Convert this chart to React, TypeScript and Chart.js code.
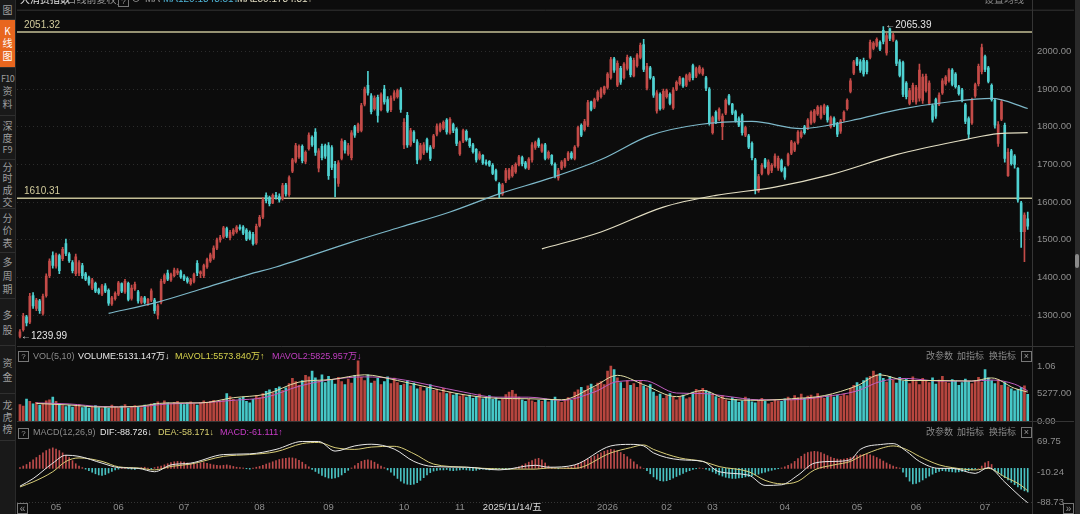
import React, { useEffect, useRef } from 'react';
import { Chart, registerables } from 'chart.js';

Chart.register(...registerables);

const FONT = '"Liberation Sans", "Noto Sans CJK SC", sans-serif';
const CJK = '"Noto Sans CJK SC", "Liberation Sans", sans-serif';

// ---------- DATA ----------
// daily candles: [open, high, low, close]
const candles: [number, number, number, number][] = [
  [1244,1262,1239.99,1256],[1262,1305,1258,1298],[1296,1300,1272,1280],[1282,1358,1278,1350],[1352,1360,1318,1325],
  [1318,1345,1312,1340],[1338,1342,1305,1312],[1305,1356,1300,1350],[1352,1410,1348,1404],[1405,1450,1400,1444],
  [1458,1468,1425,1432],[1430,1465,1425,1460],[1458,1462,1410,1418],[1450,1480,1445,1475],[1490,1502,1458,1464],
  [1462,1466,1440,1445],[1440,1445,1412,1418],[1410,1462,1405,1455],[1412,1445,1405,1440],[1432,1438,1398,1405],
  [1410,1414,1392,1396],[1400,1404,1380,1385],[1372,1398,1368,1394],[1385,1388,1360,1364],[1368,1372,1356,1360],
  [1356,1382,1352,1378],[1378,1384,1360,1364],[1366,1370,1326,1332],[1330,1350,1326,1346],[1344,1362,1340,1358],
  [1356,1390,1352,1386],[1384,1386,1360,1364],[1362,1395,1358,1390],[1385,1388,1338,1342],[1345,1380,1340,1372],
  [1370,1388,1366,1382],[1362,1366,1332,1338],[1334,1350,1330,1346],[1346,1350,1330,1334],[1332,1345,1326,1342],
  [1340,1370,1336,1365],[1340,1345,1305,1312],[1300,1330,1290,1325],[1335,1396,1330,1390],[1388,1410,1384,1405],
  [1412,1420,1392,1396],[1394,1412,1390,1408],[1405,1425,1402,1420],[1412,1424,1408,1418],[1416,1420,1398,1402],
  [1404,1408,1392,1396],[1398,1402,1385,1390],[1384,1398,1380,1394],[1390,1412,1386,1408],[1438,1445,1405,1412],
  [1410,1418,1400,1415],[1405,1436,1400,1432],[1428,1452,1424,1448],[1444,1465,1440,1460],[1452,1484,1448,1478],
  [1478,1505,1474,1500],[1500,1512,1494,1506],[1508,1536,1504,1532],[1530,1534,1506,1510],[1506,1525,1500,1520],
  [1516,1530,1512,1526],[1522,1538,1518,1534],[1534,1540,1526,1530],[1534,1538,1514,1518],[1526,1530,1498,1502],
  [1520,1524,1500,1504],[1515,1520,1486,1490],[1492,1542,1488,1536],[1538,1565,1534,1560],[1560,1612,1556,1606],
  [1618,1625,1598,1604],[1612,1616,1590,1596],[1598,1622,1596,1618],[1618,1626,1608,1614],[1615,1622,1600,1606],
  [1610,1650,1605,1644],[1645,1650,1616,1622],[1620,1670,1615,1665],[1682,1716,1678,1712],[1708,1756,1704,1750],
  [1720,1752,1716,1748],[1748,1752,1704,1710],[1708,1736,1702,1732],[1742,1784,1738,1778],[1772,1776,1748,1752],
  [1786,1795,1724,1732],[1690,1742,1680,1736],[1748,1754,1712,1718],[1750,1754,1716,1722],[1750,1758,1660,1670],
  [1745,1750,1686,1692],[1700,1708,1614,1664],[1650,1710,1642,1704],[1716,1768,1712,1762],[1760,1764,1730,1738],
  [1728,1756,1724,1750],[1718,1790,1712,1784],[1800,1804,1772,1778],[1788,1810,1784,1806],[1790,1862,1786,1856],
  [1860,1905,1855,1900],[1910,1947,1884,1890],[1882,1888,1834,1840],[1848,1882,1844,1876],[1878,1884,1812,1830],
  [1845,1890,1842,1885],[1900,1910,1860,1866],[1872,1880,1838,1842],[1845,1882,1840,1876],[1876,1896,1870,1890],
  [1880,1900,1876,1896],[1898,1904,1838,1846],[1752,1822,1742,1812],[1830,1838,1745,1752],[1752,1796,1748,1790],
  [1786,1790,1758,1762],[1760,1766,1702,1712],[1716,1756,1712,1750],[1730,1758,1726,1752],[1766,1770,1732,1738],
  [1745,1750,1710,1716],[1746,1780,1742,1776],[1780,1808,1776,1802],[1790,1810,1786,1806],[1796,1816,1792,1812],
  [1818,1822,1780,1786],[1784,1824,1780,1820],[1806,1810,1784,1790],[1794,1798,1750,1756],[1728,1762,1724,1758],
  [1762,1794,1758,1790],[1788,1792,1762,1766],[1768,1770,1745,1750],[1752,1756,1730,1734],[1740,1742,1706,1712],
  [1716,1734,1712,1728],[1724,1726,1700,1704],[1706,1712,1698,1702],[1708,1710,1695,1698],[1698,1702,1673,1676],
  [1684,1688,1656,1660],[1648,1652,1612,1622],[1622,1650,1618,1646],[1656,1690,1652,1684],[1664,1690,1660,1686],
  [1670,1698,1666,1694],[1680,1704,1676,1700],[1700,1724,1696,1720],[1718,1722,1696,1702],[1704,1708,1688,1692],
  [1690,1718,1686,1714],[1712,1758,1706,1752],[1745,1762,1740,1758],[1765,1770,1745,1750],[1735,1755,1732,1752],
  [1752,1756,1712,1716],[1718,1736,1714,1732],[1724,1726,1698,1702],[1700,1704,1664,1670],[1664,1690,1658,1684],
  [1690,1710,1686,1706],[1696,1716,1692,1712],[1714,1734,1710,1730],[1730,1734,1714,1718],[1716,1750,1712,1746],
  [1750,1802,1746,1798],[1804,1808,1774,1778],[1792,1820,1788,1814],[1804,1870,1800,1864],[1866,1868,1842,1846],
  [1852,1876,1848,1872],[1872,1896,1868,1892],[1880,1904,1876,1900],[1890,1908,1886,1906],[1904,1944,1900,1940],
  [1930,1984,1926,1978],[1980,1984,1944,1950],[1910,1975,1906,1968],[1955,1960,1912,1918],[1930,1970,1926,1966],
  [1955,1990,1950,1984],[1982,1986,1932,1938],[1935,1982,1932,1976],[1962,1994,1958,1990],[1984,2022,1980,2016],
  [2018,2032,1946,1952],[1902,1968,1898,1960],[1956,1960,1926,1930],[1930,1934,1878,1884],[1842,1896,1836,1890],
  [1886,1890,1844,1848],[1850,1900,1846,1894],[1880,1900,1876,1896],[1886,1890,1858,1862],[1850,1904,1846,1898],
  [1900,1922,1896,1918],[1914,1934,1910,1930],[1928,1930,1904,1908],[1910,1940,1906,1936],[1924,1944,1920,1940],
  [1962,1966,1924,1930],[1934,1958,1930,1954],[1944,1962,1940,1958],[1940,1956,1936,1952],[1930,1934,1896,1902],
  [1900,1904,1804,1810],[1784,1828,1780,1824],[1838,1842,1808,1812],[1820,1850,1816,1846],[1800,1834,1766,1828],
  [1836,1874,1832,1870],[1882,1886,1858,1862],[1860,1862,1832,1836],[1840,1844,1812,1816],[1822,1826,1800,1804],
  [1830,1834,1778,1784],[1778,1802,1774,1798],[1776,1780,1742,1746],[1756,1760,1712,1718],[1712,1716,1622,1634],
  [1630,1674,1626,1668],[1676,1702,1672,1698],[1712,1716,1690,1694],[1676,1712,1672,1706],[1684,1702,1678,1698],
  [1696,1728,1692,1722],[1690,1722,1684,1716],[1710,1714,1680,1684],[1690,1694,1660,1666],[1700,1730,1696,1726],
  [1730,1764,1726,1760],[1738,1760,1734,1756],[1758,1790,1754,1786],[1774,1790,1770,1786],[1800,1804,1780,1784],
  [1796,1822,1792,1818],[1810,1842,1806,1838],[1814,1846,1810,1842],[1834,1856,1830,1852],[1824,1856,1820,1852],
  [1836,1860,1832,1856],[1852,1856,1812,1818],[1800,1828,1796,1824],[1822,1826,1800,1804],[1808,1812,1774,1780],
  [1788,1820,1782,1816],[1818,1842,1814,1838],[1848,1874,1844,1870],[1894,1928,1890,1922],[1942,1976,1938,1972],
  [1980,1984,1962,1966],[1972,1978,1944,1950],[1976,1982,1934,1940],[1972,1976,1940,1946],[1984,2030,1980,2024],
  [2008,2026,2004,2022],[2016,2036,2012,2032],[2024,2028,2002,2006],[2056,2065.39,2020,2026],[1996,2048,1990,2042],
  [2060,2062,2028,2034],[2030,2048,2026,2044],[2026,2030,1962,1968],[1972,1978,1932,1936],[1970,1974,1880,1886],
  [1916,1920,1874,1880],[1862,1902,1858,1896],[1872,1916,1866,1910],[1866,1910,1860,1904],[1876,1966,1868,1950],
  [1870,1940,1862,1932],[1896,1940,1892,1934],[1862,1922,1858,1916],[1856,1860,1812,1818],[1872,1876,1822,1828],
  [1860,1890,1856,1884],[1890,1928,1886,1922],[1914,1936,1910,1932],[1922,1954,1918,1950],[1950,1954,1908,1912],
  [1940,1944,1902,1906],[1906,1910,1884,1888],[1898,1902,1866,1870],[1858,1862,1808,1814],[1822,1826,1768,1780],
  [1810,1876,1806,1870],[1882,1916,1878,1912],[1914,1966,1908,1960],[1946,2019,1940,2010],[1986,1990,1946,1952],
  [1956,1960,1916,1920],[1910,1914,1868,1872],[1870,1874,1796,1804],[1756,1814,1748,1806],[1820,1872,1816,1866],
  [1804,1810,1706,1716],[1670,1742,1668,1732],[1736,1740,1698,1702],[1722,1726,1690,1700],[1690,1692,1600,1606],
  [1598,1602,1480,1522],[1522,1572,1442,1566],[1556,1574,1528,1536],
];

// daily volume (万)
const volumes: number[] = [
  3200,2900,4250,3800,3300,3600,3100,3400,3900,4100,4600,3800,
  3300,3000,2800,3100,2700,2900,3200,2600,2800,2500,2700,3000,2600,2400,2800,2500,3100,2700,2600,2900,3200,2500,2800,3000,2700,2600,3100,2900,3300,
  3400,3700,3200,3900,3500,3300,3600,3800,3400,3200,3500,3700,3300,3100,3600,3900,3500,3800,4000,3600,3700,4100,
  5300,4700,4200,3900,4400,4600,3800,3500,4200,4900,4500,
  5300,5700,6000,5500,6300,6600,5900,6400,
  7200,8200,7600,6900,7800,8800,8500,9600,8300,7700,8900,7400,8600,7900,7100,8400,7600,7000,8100,7300,8800,
  11600,
  8400,7800,8900,7300,7700,8200,7000,7600,8500,7200,8260,7400,6900,7100,7800,
  6800,7300,6200,6600,5800,6400,7000,5900,6100,5500,6300,5300,
  5600,5000,5300,4800,5100,4600,5000,4400,4700,5200,4300,4600,4900,4200,4500,3900,4300,5100,5600,5900,5200,4600,4100,3800,4200,3900,3600,4000,
  3800,4300,3700,4100,4600,3900,3600,4200,4500,4000,
  5600,6000,6500,5900,6800,7100,6400,7300,7600,7000,
  9600,10600,9900,
  8300,7400,6300,7800,6900,7200,6500,7600,6800,6400,7000,
  5600,4800,5200,4400,4900,5300,4600,4100,4700,5000,4300,4500,
  5600,6100,5800,6300,5900,5600,
  5200,4700,4400,4900,4100,3800,4500,4200,3600,3900,4600,4300,3700,3500,4000,4400,3800,3300,3600,4100,3900,
  3800,4300,4600,4100,4900,4500,5200,4400,4800,5000,4600,5300,4700,4400,4900,5100,4600,5000,4800,5200,4900,
  6300,6900,7400,6800,7800,8300,
  8600,9600,8900,9200,
  8200,7500,8600,7900,7300,8400,7700,8100,7200,8500,7600,7000,8200,7800,7400,8300,7100,7900,8600,7500,7300,8000,7700,6900,7400,8100,7600,7200,7800,8400,7500,
  9900,
  8300,7800,7200,8000,6900,7400,6600,6200,5800,6100,6500,6800,5131.147,
];

// MACD histogram per day
const macdHist: number[] = [
  2,6, 10,16,22,28,34,40,46,50,53, 50,46,40,34,28,20,12,6, 2,-2,
  -6,-10,-14,-17,-18,-16,-12,-8,-4,
  -2,1,2,-1,-2,-3,-1,2,3,1,-1,2,4,
  6,9,12,15,17,18,17,16,14,12,11,12,14,15,13,11,9,8,7,8,9,7,5,3,
  2,1,-1,-2,1,3,5,
  8,11,14,17,20,23,25,26,27,27,25,21,16,10,4,
  -3,-8,-13,-18,-22,-25,-26,-25,-22,-17,-11,-5,
  1,7,13,18,21,22,20,16,11,6,2,
  -4,-10,-18,-26,-33,-38,-41,-42,-41,-37,-31,-24,-17,-11,-7,
  -5,-4,-4,-3,-5,-6,-5,-4,-3,-4,-5,-6,-5,-3,-2,-3,-4,-3,-2,-1,-2,-3,-2,-1,1,
  4,8,12,16,20,24,26,22,14,6,
  2,1,-1,0,1,2,4,
  8,12,16,20,24,28,32,36,40,44,47,49,48,45,41,36,30,24,17,10,4,
  0,
  -6,-14,-22,-28,-32,-33,-32,-29,-25,-21,-17,-13,-9,-6,-3,-1,
  1,0,-2,
  -5,-9,-13,-17,-20,-23,-25,-26,-26,-25,-24,-22,-21,-19,-17,-15,-12,-10,-7,-5,-3,-1,
  1,4,8,
  12,18,25,31,37,41,43,44,43,41,37,33,29,26,24,23,24,26,28,31,33,35,36,36,35,32,28,24,19,14,10,6,3,1,
  -10,-22,-33,-40,-39,-35,-30,-25,-20,-15,-11,-8,
  -6,-7,-8,-9,-10,-9,-8,-7,-6,-4,-2,0,
  6,14,18,10,
  -6,-12,-18,-24,-30,-36,-42,-48,-54,-58,-61.111,
];

// DIF / DEA read at these trading-day indices
const macdIdx = [0,4,10,14,18,25,30,36,41,46,52,62,70,78,86,91,96,102,107,114,120,126,136,146,157,161,169,180,186,190,193,201,208,213,222,227,232,237,242,248,253,256,263,266,270,274,280,284,291,295,300,305,307];
const difVals = [-46,-26.5,13.5,34,31,13.5,2,0,-8.7,9,13.5,35.7,37.5,49,69.5,69.5,44.6,58,62.4,50,18,4.6,3,-4,8,3,9,58,62,58,40,22.4,18,-8.7,-17.6,-44,-42.5,-17.6,13.5,18,22.4,49,62.4,64,44.6,18,0,0,-13,2,-35.4,-75,-88.726];
const deaVals = [-48,-35,-8.7,18,27,18,4,1,-4,5,11,31,35.7,43,64,67,53.5,49,55,57,38,11,3,-1.6,-2,1,0,40,53.5,60.6,49,27,18,4.6,-8.7,-31,-40,-33.6,-4,9,18,31,53.5,58,49,31,9,2,-4,0,-22,-44,-58.171];

// price moving averages read at these indices
const ma120Idx = [27,42,55,70,78,101,116,131,146,162,177,192,207,223,238,253,268,284,296,307];
const ma120Vals = [1305,1335,1369,1409,1428,1494,1534,1574,1622,1665,1713,1777,1806,1814,1795,1816,1846,1867,1875,1848.51];
const ma250Idx = [159,177,196,212,230,247,267,288,298,307];
const ma250Vals = [1476,1521,1587,1618,1640,1673,1726,1766,1782,1784.31];

// volume moving averages read at these indices
const mavolIdx = [5,15,25,35,45,55,65,75,85,95,105,115,125,135,145,155,165,175,182,190,200,208,215,225,235,245,255,262,270,280,290,296,303,307];
const mavol1Vals = [3400,3100,2700,2800,3500,3500,4500,5200,7500,8000,8900,7800,6400,5100,4400,4300,4100,6700,8800,7000,4700,5900,4300,4000,4300,4900,6800,8900,7800,7800,7700,8300,6300,5573.84];
const mavol2Vals = [3500,3300,2800,2750,3300,3500,4000,4600,6700,8000,8500,8100,6900,5600,4600,4600,4000,5600,7600,7800,5400,5300,4800,4100,4100,4700,5800,7600,8200,7700,7700,7900,7100,5825.957];

// axis ticks
const xTickIdx = [11,30,50,73,94,117,134,150,179,197,211,233,255,273,294];
const xTickLabels = ['05','06','07','08','09','10','11','2025/11/14/五','2026','02','03','04','05','06','07'];
const crossIdx = 150;
const priceTicks = [1300,1400,1500,1600,1700,1800,1900,2000];
const volTicks = [0,5277,10554];
const volTickLabels = ['0.00','5277.00','1.06'];
const macdTicks = [69.75,-10.24,-88.73];
const levelLines = [2051.32,1610.31];

// ---------- STYLE ----------
const RED = '#c44b48';
const CYAN = '#4fd2d2';
const VRED = '#b8463f';
const VCYAN = '#46c8c8';
const GRAY = '#8e8e8e';

const overlayPlugin = {
  id: 'overlay',
  beforeDatasetsDraw(chart: any) {
    const { ctx, chartArea: a, scales } = chart;
    const yP = scales.yP;
    ctx.save();
    ctx.strokeStyle = '#353535';
    ctx.lineWidth = 1;
    [scales.yV.top, scales.yM.top].forEach((t: number) => {
      const y = Math.round(t) + 0.5;
      ctx.beginPath(); ctx.moveTo(a.left, y); ctx.lineTo(1074, y); ctx.stroke();
    });
    ctx.beginPath(); ctx.moveTo(a.left, a.top - 0.5); ctx.lineTo(1074, a.top - 0.5); ctx.stroke();
    ctx.beginPath(); ctx.moveTo(a.right + 0.5, 0); ctx.lineTo(a.right + 0.5, 514); ctx.stroke();
    ctx.setLineDash([1, 2]);
    ctx.beginPath(); ctx.moveTo(a.left, a.bottom - 0.5); ctx.lineTo(a.right, a.bottom - 0.5); ctx.stroke();
    ctx.setLineDash([]);
    levelLines.forEach((v) => {
      const y = yP.getPixelForValue(v);
      ctx.strokeStyle = '#c4bf96';
      ctx.lineWidth = 1.5;
      ctx.beginPath(); ctx.moveTo(a.left, y); ctx.lineTo(a.right, y); ctx.stroke();
      ctx.fillStyle = '#d2cb9c';
      ctx.font = '10px ' + FONT;
      ctx.textAlign = 'left';
      ctx.textBaseline = 'alphabetic';
      ctx.fillText(v.toFixed(2), a.left + 7, y - 4);
    });
    ctx.restore();
  },
  afterDatasetsDraw(chart: any) {
    const { ctx, scales } = chart;
    let hi = 0, lo = 0;
    candles.forEach((c, i) => {
      if (c[1] > candles[hi][1]) hi = i;
      if (c[2] < candles[lo][2]) lo = i;
    });
    ctx.save();
    ctx.font = '10px ' + FONT;
    ctx.fillStyle = '#e6e6e6';
    ctx.textAlign = 'left';
    ctx.textBaseline = 'middle';
    const px = scales.x.getPixelForValue(hi);
    const py = scales.yP.getPixelForValue(candles[hi][1]);
    ctx.fillText('←' + candles[hi][1].toFixed(2), px + 2, py - 1);
    const lx = scales.x.getPixelForValue(lo);
    const ly = scales.yP.getPixelForValue(candles[lo][2]);
    ctx.fillText('←' + candles[lo][2].toFixed(2), lx + 1, ly - 2);
    ctx.restore();
  },
};

const sideItems = [
  { top: 0, h: 19, lines: ['图'], lh: 12 },
  { top: 20, h: 47, lines: ['K', '线', '图'], lh: 12.5, active: true },
  { top: 68, h: 47, lines: ['F10', '资', '料'], lh: 12.5 },
  { top: 116, h: 43, lines: ['深', '度', 'F9'], lh: 12 },
  { top: 160, h: 48, lines: ['分', '时', '成', '交'], lh: 11.7 },
  { top: 209, h: 43, lines: ['分', '价', '表'], lh: 12.5 },
  { top: 253, h: 45, lines: ['多', '周', '期'], lh: 13.5 },
  { top: 299, h: 46, lines: ['多', '股'], lh: 15 },
  { top: 346, h: 47, lines: ['资', '金'], lh: 14 },
  { top: 394, h: 46, lines: ['龙', '虎', '榜'], lh: 12 },
];

const T = ({ x, y, c, s = 9, f = FONT, children }: any) => (
  <div style={{ position: 'absolute', left: x, top: y, color: c, fontSize: s, lineHeight: '12px', whiteSpace: 'nowrap', fontFamily: f }}>{children}</div>
);

const Box = ({ x, y, w = 9, children, c = '#9a9a9a', s = 8 }: any) => (
  <div style={{ position: 'absolute', left: x, top: y, width: w, height: w, border: '1px solid #777', color: c, fontSize: s, lineHeight: w + 'px', textAlign: 'center', fontFamily: FONT, boxSizing: 'content-box' }}>{children}</div>
);

export default function App() {
  const ref = useRef<HTMLCanvasElement>(null);

  useEffect(() => {
    const canvas = ref.current as HTMLCanvasElement;
    const up = candles.map((c) => c[3] >= c[0]);
    const cColors = up.map((u) => (u ? RED : CYAN));
    const vColors = volumes.map((_, i) => (up[i] ? VRED : VCYAN));
    const hColors = macdHist.map((v) => (v >= 0 ? '#bd4b4b' : '#49c2c2'));
    const pts = (idx: number[], vals: number[]) => idx.map((x, k) => ({ x, y: vals[k] }));
    const line = (label: string, data: any[], color: string, axis: string, w = 1) => ({
      type: 'line', label, data, borderColor: color, borderWidth: w, pointRadius: 0,
      cubicInterpolationMode: 'monotone', fill: false, yAxisID: axis, xAxisID: 'x', order: 0,
    });
    const tickFont = { size: 9.5, family: FONT };

    const chart = new Chart(canvas, {
      type: 'bar',
      data: {
        datasets: [
          line('MA120', pts(ma120Idx, ma120Vals), '#7db8c9', 'yP', 1.2),
          line('MA250', pts(ma250Idx, ma250Vals), '#e2ddc2', 'yP', 1.2),
          {
            type: 'bar', label: 'wick', data: candles.map((c, i) => ({ x: i, y: [c[2], c[1]] })),
            backgroundColor: cColors, barThickness: 1, grouped: false, yAxisID: 'yP', xAxisID: 'x', order: 2,
          },
          {
            type: 'bar', label: 'body', data: candles.map((c, i) => ({ x: i, y: [Math.min(c[0], c[3]), Math.max(c[0], c[3])] })),
            backgroundColor: cColors, barThickness: 2, minBarLength: 1, grouped: false, yAxisID: 'yP', xAxisID: 'x', order: 1,
          },
          {
            type: 'bar', label: 'VOLUME', data: volumes.map((v, i) => ({ x: i, y: v })),
            backgroundColor: vColors, barThickness: 2, grouped: false, yAxisID: 'yV', xAxisID: 'x', order: 3,
          },
          line('MAVOL1', pts(mavolIdx, mavol1Vals), '#e2dea6', 'yV'),
          line('MAVOL2', pts(mavolIdx, mavol2Vals), '#c05ec0', 'yV'),
          {
            type: 'bar', label: 'MACD', data: macdHist.map((v, i) => ({ x: i, y: v })),
            backgroundColor: hColors, barThickness: 1, grouped: false, yAxisID: 'yM', xAxisID: 'x', order: 3,
          },
          line('DIF', pts(macdIdx, difVals), '#e8e8e8', 'yM'),
          line('DEA', pts(macdIdx, deaVals), '#d8cd78', 'yM'),
        ] as any,
      },
      options: {
        responsive: false,
        animation: false,
        events: [],
        layout: { padding: { left: 17, top: 10, right: 0, bottom: 0 } },
        plugins: { legend: { display: false }, tooltip: { enabled: false } },
        scales: {
          x: {
            type: 'linear', min: -0.9, max: 308.3, offset: false, position: 'bottom',
            grid: { display: false, drawTicks: false }, border: { display: false },
            afterBuildTicks: (s: any) => { s.ticks = xTickIdx.map((v) => ({ value: v })); },
            afterFit: (s: any) => { s.height = 11; },
            ticks: {
              autoSkip: false, maxRotation: 0, padding: -1, font: tickFont,
              color: (c: any) => (c.tick && c.tick.value === crossIdx ? '#dedede' : GRAY),
              callback: (v: any) => { const k = xTickIdx.indexOf(Number(v)); return k >= 0 ? xTickLabels[k] : ''; },
            },
          },
          yP: {
            type: 'linear', position: 'right', stack: 'panes', stackWeight: 336, min: 1217.9, max: 2107.8,
            afterBuildTicks: (s: any) => { s.ticks = priceTicks.map((v) => ({ value: v })); },
            afterFit: (s: any) => { s.width = 48; },
            grid: { color: '#2c2c2c', drawTicks: false, lineWidth: 1 },
            border: { display: false, dash: [1, 3] },
            ticks: { padding: 5, color: GRAY, font: tickFont, callback: (v: any) => Number(v).toFixed(2) },
          },
          yV: {
            type: 'linear', position: 'right', stack: 'panes', stackWeight: 75, min: 0, max: 14392,
            afterBuildTicks: (s: any) => { s.ticks = volTicks.map((v) => ({ value: v })); },
            afterFit: (s: any) => { s.width = 48; },
            grid: { display: false, drawTicks: false }, border: { display: false },
            ticks: { padding: 5, color: GRAY, font: tickFont, callback: (v: any) => volTickLabels[volTicks.indexOf(Number(v))] },
          },
          yM: {
            type: 'linear', position: 'right', stack: 'panes', stackWeight: 82, min: -89.5, max: 122.1,
            afterBuildTicks: (s: any) => { s.ticks = macdTicks.map((v) => ({ value: v })); },
            afterFit: (s: any) => { s.width = 48; },
            grid: { display: false, drawTicks: false }, border: { display: false },
            ticks: { padding: 5, color: GRAY, font: tickFont, callback: (v: any) => Number(v).toFixed(2) },
          },
        },
      } as any,
      plugins: [overlayPlugin as any],
    });
    return () => chart.destroy();
  }, []);

  const ctrl = (y: number) => (
    <>
      <T x={926} y={y} c="#8a8a8a" f={CJK}>改参数</T>
      <T x={957} y={y} c="#8a8a8a" f={CJK}>加指标</T>
      <T x={989} y={y} c="#8a8a8a" f={CJK}>换指标</T>
      <Box x={1021} y={y + 1} s={9}>×</Box>
    </>
  );

  return (
    <div style={{ position: 'fixed', left: 0, top: 0, width: 1080, height: 514, background: '#0c0c0c', overflow: 'hidden', fontFamily: FONT }}>
      <canvas ref={ref} width={1080} height={514} style={{ position: 'absolute', left: 0, top: 0, width: 1080, height: 514 }} />

      {/* left sidebar */}
      <div style={{ position: 'absolute', left: 0, top: 0, width: 15, height: 514, background: '#191919', borderRight: '1px solid #2a2a2a' }} />
      {sideItems.map((it, k) => (
        <div key={k} style={{
          position: 'absolute', left: 0, top: it.top, width: 15, height: it.h,
          background: it.active ? '#e8661e' : 'transparent', borderBottom: '1px solid #2f2f2f',
          display: 'flex', flexDirection: 'column', justifyContent: 'center', alignItems: 'center',
        }}>
          {it.lines.map((s, j) => (
            <div key={j} style={{ height: it.lh, lineHeight: it.lh + 'px', fontSize: s.length > 1 ? 9 : 10, letterSpacing: s.length > 2 ? -0.6 : 0, color: it.active ? '#ffffff' : '#9d9d9d', fontFamily: CJK, whiteSpace: 'nowrap' }}>{s}</div>
          ))}
        </div>
      ))}

      {/* top header (cut off at top) */}
      <T x={20} y={-7} s={10} c="#e2e2e2" f={CJK}>大消费指数</T>
      <T x={63} y={-7} s={10} c="#9a9a9a" f={CJK}>[日线前复权]</T>
      <Box x={118} y={-4} s={8}>?</Box>
      <T x={131} y={-7} s={10} c="#9a9a9a">⊙</T>
      <T x={145} y={-7} s={10} c="#9a9a9a">MA</T>
      <T x={163} y={-7} s={10} c="#4fb4d6">MA120:1848.51↓</T>
      <T x={237} y={-7} s={10} c="#e2ddc2">MA250:1784.31↑</T>
      <T x={984} y={-7} s={10} c="#8a8a8a" f={CJK}>设置均线</T>

      {/* volume header */}
      <Box x={18} y={351}>?</Box>
      <T x={33} y={349.5} c="#8c8c8c">VOL(5,10)</T>
      <T x={78} y={349.5} c="#e8e8e8">VOLUME:5131.147万↓</T>
      <T x={175} y={349.5} c="#d6d24c">MAVOL1:5573.840万↑</T>
      <T x={272} y={349.5} c="#c23fc2">MAVOL2:5825.957万↓</T>
      {ctrl(349.5)}

      {/* MACD header */}
      <Box x={18} y={427.5}>?</Box>
      <T x={33} y={426} c="#8c8c8c">MACD(12,26,9)</T>
      <T x={100} y={426} c="#e8e8e8">DIF:-88.726↓</T>
      <T x={158} y={426} c="#d8d070">DEA:-58.171↓</T>
      <T x={220} y={426} c="#c83cc8">MACD:-61.111↑</T>
      {ctrl(426)}

      {/* scroll buttons */}
      <Box x={17} y={503} c="#9a9a9a" s={10}>«</Box>
      <Box x={1063} y={503} c="#9a9a9a" s={10}>»</Box>

      {/* right edge strip */}
      <div style={{ position: 'absolute', left: 1075, top: 0, width: 5, height: 514, background: '#2a2a2a' }} />
      <div style={{ position: 'absolute', left: 1075, top: 254, width: 4, height: 14, background: '#8a8a8a', borderRadius: 3 }} />
    </div>
  );
}
